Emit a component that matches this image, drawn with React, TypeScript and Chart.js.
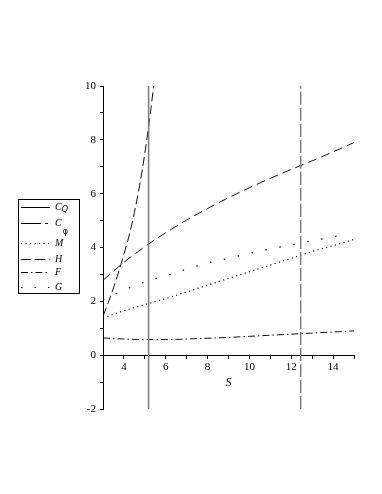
import React, { useEffect, useRef } from "react";
import { Chart, registerables } from "chart.js";

Chart.register(...registerables);

// ---- data ----
const sValues = [3, 4, 5, 6, 7, 8, 9, 10, 11, 12, 13, 14, 15];
const hValues = [2.78, 3.45, 4.03, 4.55, 5.02, 5.45, 5.85, 6.22, 6.57, 6.9, 7.22, 7.55, 7.9];
const mValues = [1.38, 1.65, 1.88, 2.1, 2.35, 2.6, 2.85, 3.1, 3.35, 3.6, 3.85, 4.07, 4.3];
const fValues = [0.64, 0.6, 0.58, 0.58, 0.6, 0.63, 0.66, 0.7, 0.74, 0.78, 0.82, 0.86, 0.9];
const gS = [3, 4, 5, 6, 7, 8, 9, 10, 11, 12, 13, 14, 14.6];
const gValues = [2.05, 2.42, 2.72, 2.95, 3.2, 3.42, 3.6, 3.78, 3.95, 4.1, 4.25, 4.4, 4.5];
const cPhiS = [3, 3.25, 3.5, 3.75, 4, 4.25, 4.5, 4.75, 5, 5.25, 5.45];
const cPhiValues = [1.45, 1.95, 2.5, 3.1, 3.75, 4.45, 5.3, 6.3, 7.5, 8.9, 10.2];
const cQPole = 5.18;
const cPhiPole = 12.45;
const xMin = 3;
const xMax = 15;
const yMin = -2;
const yMax = 10;

const legendItems = [
  { main: "C", sub: "Q", dash: [] as number[], subLow: false },
  { main: "C", sub: "\u03C6", dash: [20, 4, 3, 4], subLow: true },
  { main: "M", sub: "", dash: [1.2, 3.3], subLow: false },
  { main: "H", sub: "", dash: [10, 4], subLow: false },
  { main: "F", sub: "", dash: [7, 3, 1.5, 3], subLow: false },
  { main: "G", sub: "", dash: [1.5, 12], subLow: false },
];

const pts = (xs: number[], ys: number[]) => xs.map((x, i) => ({ x, y: ys[i] }));

const legendPlugin = {
  id: "mapleLegend",
  afterDraw(chart: any) {
    const ctx = chart.ctx;
    ctx.save();
    ctx.strokeStyle = "#000";
    ctx.lineWidth = 1;
    ctx.setLineDash([]);
    ctx.strokeRect(18.5, 199.5, 61, 94);
    const rows = [207, 223, 243, 259, 272, 287];
    legendItems.forEach((it, i) => {
      const y = rows[i];
      ctx.beginPath();
      ctx.setLineDash(it.dash);
      ctx.lineWidth = 1;
      ctx.moveTo(21, y + 0.5);
      ctx.lineTo(50, y + 0.5);
      ctx.stroke();
      ctx.setLineDash([]);
      ctx.fillStyle = "#000";
      ctx.textBaseline = "middle";
      ctx.textAlign = "left";
      ctx.font = "italic 10px 'Liberation Serif'";
      ctx.fillText(it.main, 55, y);
      if (it.sub) {
        const w = ctx.measureText(it.main).width;
        ctx.font = (it.subLow ? "" : "italic ") + "8px 'DejaVu Sans'";
        ctx.fillText(it.sub, 55 + w + (it.subLow ? 1 : 0), it.subLow ? y + 9 : y + 3);
      }
    });
    ctx.restore();
  },
};

export default function App() {
  const ref = useRef<HTMLCanvasElement | null>(null);
  useEffect(() => {
    if (!ref.current) return;
    const black = "#111";
    const grey = "#7a7a7a";
    const base = { pointRadius: 0, fill: false, borderCapStyle: "butt" as const, cubicInterpolationMode: "monotone" as const };
    const chart = new Chart(ref.current, {
      type: "line",
      data: {
        datasets: [
          { ...base, label: "CQ", data: [{ x: cQPole, y: yMin }, { x: cQPole, y: yMax }], borderColor: grey, borderWidth: 1.5 },
          { ...base, label: "Cphi", data: pts(cPhiS, cPhiValues), borderColor: black, borderWidth: 1, borderDash: [9, 4] },
          { ...base, label: "Cphi pole", data: [{ x: cPhiPole, y: yMin }, { x: cPhiPole, y: yMax }], borderColor: grey, borderWidth: 1.5, borderDash: [13, 3] },
          { ...base, label: "M", data: pts(sValues, mValues), borderColor: black, borderWidth: 1.2, borderDash: [1.2, 3.3] },
          { ...base, label: "H", data: pts(sValues, hValues), borderColor: black, borderWidth: 1, borderDash: [9, 5] },
          { ...base, label: "F", data: pts(sValues, fValues), borderColor: black, borderWidth: 1, borderDash: [7, 3, 1.5, 3] },
          { ...base, label: "G", data: pts(gS, gValues), borderColor: black, borderWidth: 1.3, borderDash: [1.5, 12.7] },
        ],
      },
      options: {
        animation: false,
        responsive: false,
        layout: { padding: { left: 73, right: 28, top: 86, bottom: 85 } },
        plugins: { legend: { display: false }, tooltip: { enabled: false } },
        scales: {
          x: {
            type: "linear",
            position: { y: 0 } as any,
            min: xMin,
            max: xMax,
            ticks: {
              stepSize: 1,
              autoSkip: false,
              maxRotation: 0,
              color: "#000",
              padding: 2,
              font: { family: "'Liberation Serif'", size: 11 },
              callback: (v: any) => (Number(v) % 2 === 0 ? String(v) : ""),
            },
            grid: { drawOnChartArea: false, drawTicks: true, tickLength: 3, color: "#000" },
            border: { display: true, color: "#000", width: 1 },
            title: { display: true, text: "S", color: "#000", padding: 0, font: { family: "'Liberation Serif'", size: 12, style: "italic" } },
          },
          y: {
            type: "linear",
            position: "left",
            min: yMin,
            max: yMax,
            afterFit: (s: any) => {
              s.width = 30;
            },
            ticks: {
              stepSize: 1,
              autoSkip: false,
              color: "#000",
              padding: 4,
              font: { family: "'Liberation Serif'", size: 11 },
              callback: (v: any) => (Number(v) % 2 === 0 ? String(v) : ""),
            },
            grid: { drawOnChartArea: false, drawTicks: true, tickLength: 3, color: "#000" },
            border: { display: true, color: "#000", width: 1 },
          },
        },
      },
      plugins: [legendPlugin],
    });
    return () => chart.destroy();
  }, []);
  return (
    <div style={{ position: "absolute", left: 0, top: 0, width: 382, height: 494, background: "#fff" }}>
      <canvas ref={ref} width={382} height={494} style={{ display: "block" }} />
    </div>
  );
}
